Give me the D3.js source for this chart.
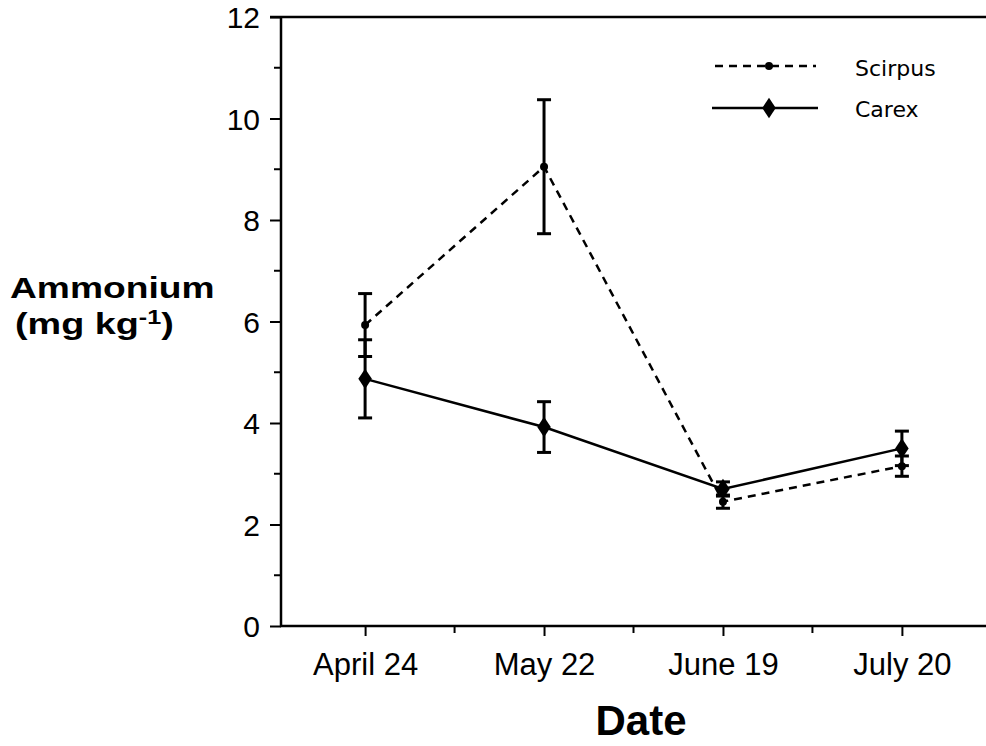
<!DOCTYPE html>
<html>
<head>
<meta charset="utf-8">
<script src="https://cdn.jsdelivr.net/npm/d3@7/dist/d3.min.js"></script>
<style>
  body { margin: 0; background: #fff; }
  svg { display: block; font-family: "Liberation Sans", Arial, Helvetica, sans-serif; }
</style>
</head>
<body>
<svg id="chart" width="986" height="746"></svg>
<script>
// data
const dates = ['April 24', 'May 22', 'June 19', 'July 20'];
const scirpusMean = [5.93, 9.05, 2.45, 3.15];
const scirpusErr = [0.62, 1.32, 0.13, 0.2];
const carexMean = [4.87, 3.92, 2.70, 3.50];
const carexErr = [0.77, 0.5, 0.14, 0.34];
const yTicks = [0, 2, 4, 6, 8, 10, 12];
const yMinor = [1, 3, 5, 7, 9, 11];

const svg = d3.select('#chart');
const plotL = 281, plotR = 986, plotT = 17, plotB = 626;

const x = d3.scalePoint().domain(dates).range([plotL, plotR]).padding(0.47);
const y = d3.scaleLinear().domain([0, 12]).range([plotB, plotT]);

const ink = '#000';

// y axis
const yAxis = svg.append('g').attr('transform', `translate(${plotL},0)`)
    .call(d3.axisLeft(y).tickValues(yTicks).tickSize(11).tickPadding(10).tickFormat(d3.format('d')));
yAxis.select('.domain').remove();
yAxis.selectAll('line').attr('stroke', ink).attr('stroke-width', 2);
yAxis.selectAll('text').attr('font-size', 30).attr('fill', ink).attr('dy', '0.36em');
svg.append('g').selectAll('line').data(yMinor).enter().append('line')
    .attr('x1', plotL - 7).attr('x2', plotL)
    .attr('y1', d => y(d)).attr('y2', d => y(d))
    .attr('stroke', ink).attr('stroke-width', 2);
svg.append('line').attr('x1', plotL).attr('x2', plotL).attr('y1', plotT).attr('y2', plotB + 1)
    .attr('stroke', ink).attr('stroke-width', 2.5);

// top border
svg.append('line').attr('x1', plotL - 11).attr('x2', plotR).attr('y1', plotT).attr('y2', plotT)
    .attr('stroke', ink).attr('stroke-width', 2.5);

// x axis
svg.append('line').attr('x1', plotL - 1).attr('x2', plotR).attr('y1', plotB).attr('y2', plotB)
    .attr('stroke', ink).attr('stroke-width', 2.5);
const xAxis = svg.append('g').attr('transform', `translate(0,${plotB})`)
    .call(d3.axisBottom(x).tickSize(10).tickPadding(17));
xAxis.select('.domain').remove();
xAxis.selectAll('line').attr('stroke', ink).attr('stroke-width', 2);
xAxis.selectAll('text').attr('font-size', 31).attr('fill', ink);
const half = x.step() / 2;
svg.append('g').selectAll('line').data(dates.slice(0, -1)).enter().append('line')
    .attr('x1', d => x(d) + half).attr('x2', d => x(d) + half)
    .attr('y1', plotB).attr('y2', plotB + 7)
    .attr('stroke', ink).attr('stroke-width', 2);

// series
const series = [
  { name: 'Scirpus', mean: scirpusMean, err: scirpusErr, dash: '8,6', marker: 'dot' },
  { name: 'Carex', mean: carexMean, err: carexErr, dash: null, marker: 'diamond' }
];

const line = d3.line().x(d => x(d.date)).y(d => y(d.v));

series.forEach(s => {
  const pts = dates.map((d, i) => ({ date: d, v: s.mean[i], e: s.err[i] }));
  const g = svg.append('g');
  // error bars
  pts.forEach(p => {
    const cx = x(p.date);
    g.append('line').attr('x1', cx).attr('x2', cx)
      .attr('y1', y(p.v - p.e)).attr('y2', y(p.v + p.e))
      .attr('stroke', ink).attr('stroke-width', 3);
    [p.v - p.e, p.v + p.e].forEach(v => {
      g.append('line').attr('x1', cx - 7).attr('x2', cx + 7)
        .attr('y1', y(v)).attr('y2', y(v))
        .attr('stroke', ink).attr('stroke-width', 3);
    });
  });
  g.append('path').datum(pts).attr('d', line)
    .attr('fill', 'none').attr('stroke', ink).attr('stroke-width', 2.5)
    .attr('stroke-dasharray', s.dash);
  if (s.marker === 'dot') {
    g.selectAll('circle').data(pts).enter().append('circle')
      .attr('cx', d => x(d.date)).attr('cy', d => y(d.v)).attr('r', 4).attr('fill', ink);
  } else {
    g.selectAll('path.m').data(pts).enter().append('path').attr('class', 'm')
      .attr('d', d3.symbol(d3.symbolDiamond, 120))
      .attr('transform', d => `translate(${x(d.date)},${y(d.v)}) scale(1.15,1)`)
      .attr('fill', ink);
  }
});

// legend
const leg = svg.append('g');
leg.append('line').attr('x1', 715).attr('x2', 816).attr('y1', 66).attr('y2', 66)
  .attr('stroke', ink).attr('stroke-width', 2.5).attr('stroke-dasharray', '8,6');
leg.append('circle').attr('cx', 769).attr('cy', 66).attr('r', 4).attr('fill', ink);
leg.append('text').attr('x', 855).attr('y', 76).attr('font-size', 22)
  .attr('font-family', '"DejaVu Sans", sans-serif').text('Scirpus');
leg.append('line').attr('x1', 712).attr('x2', 818).attr('y1', 108).attr('y2', 108)
  .attr('stroke', ink).attr('stroke-width', 2.5);
leg.append('path').attr('d', d3.symbol(d3.symbolDiamond, 120))
  .attr('transform', 'translate(769,108) scale(1.15,1)').attr('fill', ink);
leg.append('text').attr('x', 855).attr('y', 117).attr('font-size', 22)
  .attr('font-family', '"DejaVu Sans", sans-serif').text('Carex');

// axis titles (original lettering is set wide)
svg.append('text').attr('transform', 'translate(10,298) scale(1.24,1)')
  .attr('font-size', 30).attr('font-weight', 'bold').text('Ammonium');
const unit = svg.append('text').attr('transform', 'translate(15,334) scale(1.26,1)')
  .attr('font-size', 30).attr('font-weight', 'bold');
unit.append('tspan').text('(mg kg');
unit.append('tspan').attr('dy', -10).attr('font-size', 20).text('-1');
unit.append('tspan').attr('dy', 10).text(')');

svg.append('text').attr('x', 641).attr('y', 735).attr('text-anchor', 'middle')
  .attr('font-size', 42).attr('font-weight', 'bold').text('Date');
</script>
</body>
</html>
